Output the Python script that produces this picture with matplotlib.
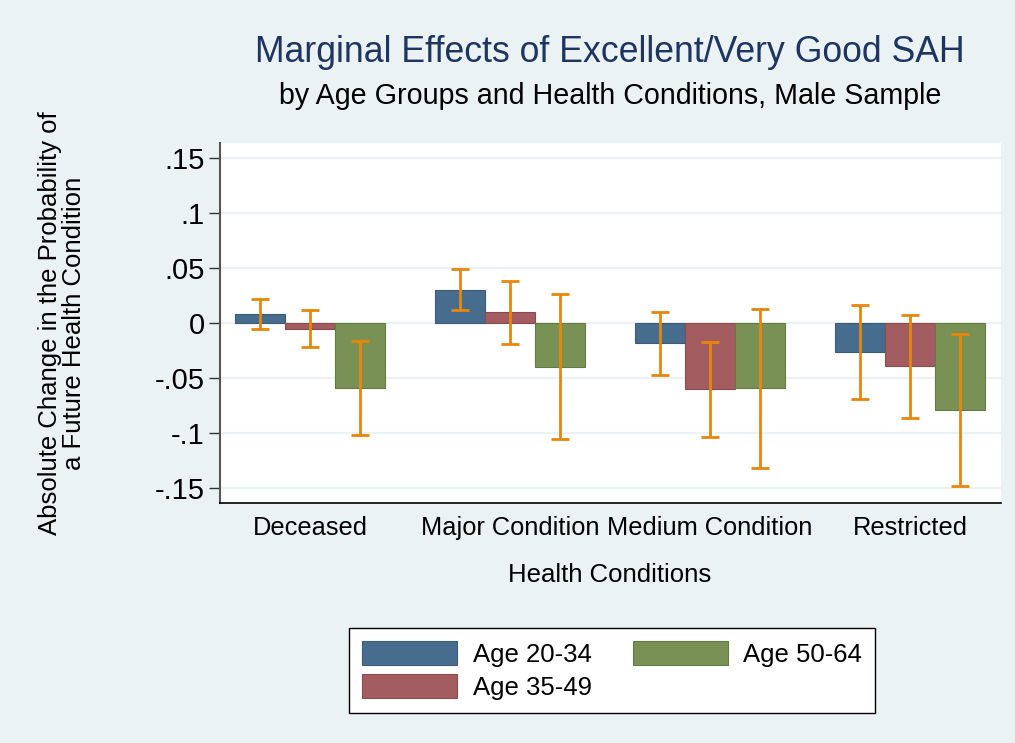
import matplotlib.pyplot as plt
import numpy as np

plt.rcParams['font.family'] = ['Liberation Sans', 'DejaVu Sans']

categories = ['Deceased', 'Major Condition', 'Medium Condition', 'Restricted']
groups = ['Age 20-34', 'Age 35-49', 'Age 50-64']
effects = [
    [0.008, 0.030, -0.018, -0.026],   # Age 20-34
    [-0.005, 0.010, -0.060, -0.039],  # Age 35-49
    [-0.059, -0.040, -0.059, -0.079], # Age 50-64
]
ci_low = [
    [-0.005, 0.012, -0.047, -0.069],
    [-0.022, -0.019, -0.104, -0.086],
    [-0.102, -0.105, -0.132, -0.148],
]
ci_high = [
    [0.022, 0.049, 0.010, 0.016],
    [0.012, 0.038, -0.017, 0.007],
    [-0.016, 0.026, 0.013, -0.010],
]
yticks = [0.15, 0.1, 0.05, 0, -0.05, -0.1, -0.15]
yticklabels = ['.15', '.1', '.05', '0', '-.05', '-.1', '-.15']

bg = '#EAF2F3'
colors = ['#476D8E', '#A35C60', '#7A9156']
edges = ['#3A5A78', '#8A4A4E', '#637A45']
err_color = '#E8860A'

fig = plt.figure(figsize=(10.15, 7.43), dpi=100, facecolor=bg)
ax = fig.add_axes([0.2167, 0.3230, 0.7695, 0.4845])
ax.set_facecolor('white')

x = np.arange(len(categories))
w = 0.25
for i in range(3):
    pos = x + (i - 1) * w
    vals = np.array(effects[i])
    lo = vals - np.array(ci_low[i])
    hi = np.array(ci_high[i]) - vals
    ax.bar(pos, vals, width=w, color=colors[i], edgecolor=edges[i],
           linewidth=0.8, label=groups[i], zorder=2)
    ax.errorbar(pos, vals, yerr=[lo, hi], fmt='none', ecolor=err_color,
                elinewidth=2, capsize=6.5, capthick=2, zorder=3)

ax.set_xlim(-0.45, 3.455)
ax.set_ylim(-0.1636, 0.1636)
ax.set_yticks(yticks)
ax.set_yticklabels(yticklabels)
ax.set_xticks(x)
ax.set_xticklabels(categories)
ax.tick_params(axis='y', labelsize=21, length=8, width=1, color='#333333', pad=3)
ax.tick_params(axis='x', labelsize=18.3, length=0, pad=9)
ax.grid(axis='y', color=bg, linewidth=1.6, zorder=0)
ax.set_axisbelow(True)

for s in ['top', 'right']:
    ax.spines[s].set_visible(False)
ax.spines['left'].set_color('#555555')
ax.spines['left'].set_linewidth(1.5)
ax.spines['bottom'].set_color('black')
ax.spines['bottom'].set_linewidth(1.2)

fig.text(610 / 1015, 1 - 575 / 743, 'Health Conditions', ha='center', va='center',
         fontsize=18.5)
fig.text(62 / 1015, 1 - 323 / 743,
         'Absolute Change in the Probability of\na Future Health Condition',
         ha='center', va='center', rotation=90, fontsize=18.5, linespacing=1.0)

fig.text(610 / 1015, 0.930, 'Marginal Effects of Excellent/Very Good SAH',
         ha='center', va='center', fontsize=25.7, color='#1E3461')
fig.text(610 / 1015, 0.871, 'by Age Groups and Health Conditions, Male Sample',
         ha='center', va='center', fontsize=20.6, color='black')

leg = fig.legend(loc='center', bbox_to_anchor=(612 / 1015, 1 - 670.5 / 743), ncol=2,
                 fontsize=18.5, frameon=True, fancybox=False, edgecolor='black',
                 framealpha=1, handlelength=3.7, handleheight=1.05, columnspacing=1.6,
                 handletextpad=0.6, borderpad=0.5, labelspacing=0.3,
                 borderaxespad=0)
leg.get_frame().set_linewidth(1.0)
leg.get_frame().set_facecolor('white')

fig.savefig('out.png', dpi=100, facecolor=bg)
